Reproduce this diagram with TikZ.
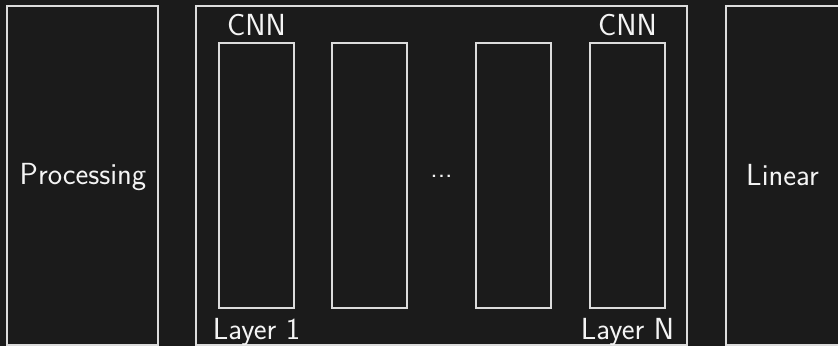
\documentclass[tikz,border=0pt]{standalone}
\usepackage{fontspec}
\begin{document}
\definecolor{bg}{HTML}{1B1B1B}
\definecolor{ln}{HTML}{DCDCDC}
\definecolor{tx}{HTML}{F4F4F4}
\begin{tikzpicture}[x=1pt,y=-1pt,
  box/.style={draw=ln, line width=1.1pt, inner sep=0pt, outer sep=0pt, anchor=north west},
  lbl/.style={text=tx, inner sep=0pt, anchor=base, font=\sffamily\fontsize{30.5}{36}\selectfont}]
\fill[bg] (0,0) rectangle (838,346);
\useasboundingbox (0,0) rectangle (838,346);
% outer boxes
\node[box, minimum width=151pt, minimum height=339pt] (proc) at (7,6) {};
\node[box, minimum width=491pt, minimum height=339pt] (cnn) at (196,6) {};
\draw[draw=ln, line width=1.1pt] (840,6) -| (726,345) -- (840,345);
% inner layers
\node[box, minimum width=75pt, minimum height=265pt] (l1) at (219,43) {};
\node[box, minimum width=75pt, minimum height=265pt] (l2) at (332,43) {};
\node[box, minimum width=75pt, minimum height=265pt] (l3) at (476,43) {};
\node[box, minimum width=75pt, minimum height=265pt] (l4) at (590,43) {};
% labels
\node[lbl] (tproc) at (83,184) {Processing};
\node[lbl] (tlin) at (782.5,185) {Linear};
\node[lbl] (tc1) at (256.5,35) {CNN};
\node[lbl] (tc2) at (627.5,35) {CNN};
\node[lbl] (tl1) at (256.5,339) {Layer 1};
\node[lbl] (tl2) at (627.5,339) {Layer N};
\node[lbl, font=\sffamily\fontsize{28.5}{34}\selectfont] (dots) at (441.5,177.5) {.{}.{}.};
\end{tikzpicture}
\end{document}
